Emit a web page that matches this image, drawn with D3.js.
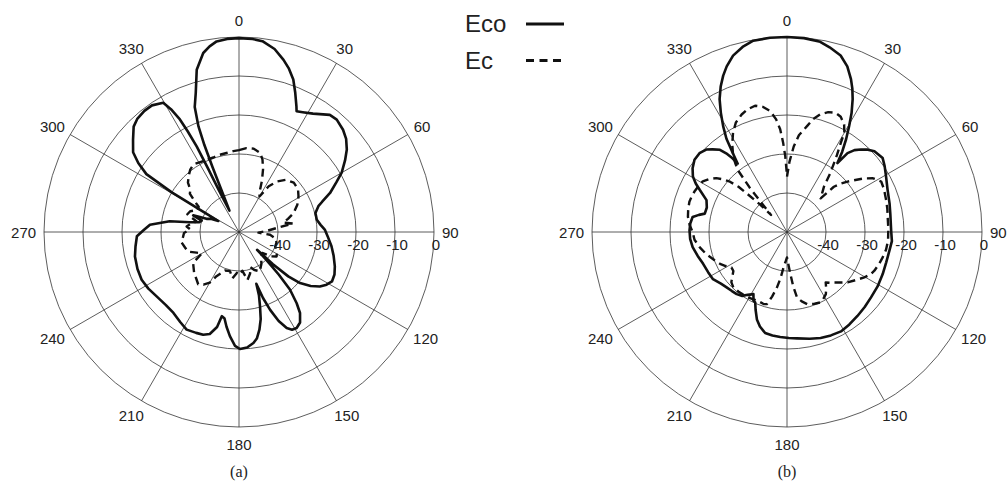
<!DOCTYPE html>
<html>
<head>
<meta charset="utf-8">
<script src="https://cdn.jsdelivr.net/npm/d3@7"></script>
<style>
  body { margin: 0; background: #fff; }
  text { font-family: "Liberation Sans", Arial, sans-serif; fill: #222; }
</style>
</head>
<body>
<script>
// ---- data (angle in degrees, level in dB) ----
var spokeAngles = [0, 30, 60, 90, 120, 150, 180, 210, 240, 270, 300, 330];
var ringLevels = [-40, -30, -20, -10, 0];
var ringLabels = ["-40", "-30", "-20", "-10", "0"];
var legendNames = ["Eco", "Ec"];
var captions = ["(a)", "(b)"];

// (a) co-pol
var ecoA_deg = [0, 4, 7, 11, 14.5, 17, 19.6, 22, 24.5, 25.5, 28, 32, 37.8, 41, 45.5, 49, 52.6, 56, 60, 63,
  66.8, 70, 72, 76, 81, 85, 88.4, 93, 98.8, 104, 109.7, 114, 118, 121, 124, 127, 129.9, 132, 133.5, 134.5,
  135.5, 137, 138.5, 141, 143, 146, 149, 151.5, 153.6, 156, 158.2, 160, 161.5, 162.5, 164.2, 166, 168.2,
  170.5, 172.6, 176, 179.5, 182, 185, 187.5, 189.5, 191.5, 193, 196, 199.2, 203, 208.2, 213, 219, 225, 232,
  238, 243.9, 250, 256.8, 262, 267.6, 271, 274.7, 278.8, 281.2, 284, 287, 290, 292, 295, 298, 299.5, 300.5,
  302, 304.4, 307, 311, 315, 318, 322, 325.5, 329.6, 331, 332.3, 333, 333.7, 334, 334.3, 336, 337.3, 337.8,
  338.3, 339, 340.5, 342.7, 345.4, 348.7, 351, 353.3, 356.5];
var ecoA_db = [-0.3, -0.4, -0.7, -2.2, -4.4, -6.2, -8.5, -11.5, -14.5, -15.7, -15.2, -14.2, -12, -11.8, -12.6, -13.6, -15.2, -17.2, -19.6, -22,
  -24.6, -27.3, -28.6, -29.8, -29.8, -29, -28, -27.2, -26, -25, -23.9, -23.2, -23, -23.8, -25, -27, -29.6, -33, -38, -43.5,
  -40, -35, -30.3, -26.5, -24, -22, -21.3, -21.5, -22.5, -25, -28.5, -32, -36, -33, -30.2, -27, -24.4,
  -22.3, -21.3, -20.3, -20, -20.8, -23.2, -25.5, -27.5, -28, -25, -22.8, -22.1, -21.9, -21.6, -22.4, -23.3, -23.5, -23.2,
  -22.6, -22.2, -22.3, -22.6, -23.2, -23.8, -25.5, -27.1, -32, -37.2, -39.5, -40, -37.5, -41, -42, -44, -40, -30,
  -22, -18.7, -16, -14, -11.8, -11, -10.6, -10.6, -11.6, -14, -17.4, -21, -25.5, -32, -38, -44, -38, -32,
  -26, -21, -16, -12.7, -7, -3.2, -1.8, -0.8, -0.4];

// (a) cross-pol
var ecA_deg = [0, 5, 10, 15, 18, 21, 24, 27, 30, 33, 37, 42, 48, 54, 59, 65, 71, 75, 78, 81,
  84, 88, 92, 95, 100, 106, 112, 118, 123, 127, 132, 138, 145, 152, 158, 162, 165, 170, 175, 180,
  183, 188, 193, 200, 207, 210, 214, 218, 222, 228, 236, 240, 244, 249, 254, 260, 265, 269, 273, 276,
  280, 284, 289, 293, 298, 302, 305, 308, 311, 314, 318, 322, 326, 331, 336, 341, 346, 351, 356];
var ecA_db = [-29, -28.4, -28.3, -29, -30.5, -32.8, -35.5, -38.3, -39.5, -36, -33.8, -32, -31.1, -31.3, -32.2, -33.5, -35.2, -37, -38.4, -36,
  -40.3, -43, -45, -42, -40.5, -40, -40, -39, -38.5, -39.6, -42, -41.5, -40, -38.6, -39.5, -40.5, -39, -37.5, -40, -39,
  -39.5, -38, -39.7, -39.5, -37.3, -35, -33.7, -33, -33.7, -34.5, -35.8, -39, -37.9, -36, -35.6, -35, -35.6, -35.9, -37.5, -36.5,
  -37.5, -38.8, -36, -36.4, -38, -37.8, -36, -34, -33.5, -31.8, -30.7, -29.7, -29.1, -29.5, -29.7, -29.8, -29.6, -29.5, -29.2];

// (b) co-pol
var ecoB_deg = [0, 5, 9.9, 13, 16.9, 20, 22.7, 24.5, 26.3, 28.5, 30.4, 32.5, 34.5, 36.2, 37.5, 39.5, 41.9, 44.5, 47.3, 52.3,
  56, 60.8, 67, 74.4, 80, 89, 95, 100.2, 107, 113.7, 121, 127.9, 134, 140, 146, 151.5, 157, 162.4, 168, 174.6,
  179, 183.7, 188, 192.2, 196, 199, 202, 204.3, 206, 208.4, 212, 215, 219, 223, 227.5, 232, 237.5, 243, 249.2, 255,
  260.9, 266, 271, 275, 279, 281, 282.6, 287, 291.6, 295.7, 298, 300.5, 304, 308, 312, 315.6, 318, 320.8, 322.3, 323.5,
  324.2, 325.5, 327, 328.9, 331, 333.1, 335.5, 337.8, 340, 343, 346.5, 350, 355];
var ecoB_db = [0, -0.1, -0.5, -1.4, -2.7, -4.8, -7.5, -9.6, -12, -15.3, -18.5, -21.8, -25, -28.1, -24.5, -22.8, -21.6, -20.4, -19.5, -19,
  -19.8, -20.9, -22, -22.7, -23.1, -23.3, -23, -23.3, -23.4, -23.2, -22.9, -22.7, -22.3, -21.9, -21.4, -21, -21.2, -21.5, -22, -22.6,
  -22.8, -23, -23.2, -23.5, -24.8, -26.3, -28.5, -30.2, -30.4, -31.9, -31, -30, -29.5, -29.3, -29, -28.5, -27.5, -27.3, -27, -26.3,
  -25.5, -25.1, -25, -25.1, -25.5, -27, -28.4, -28.5, -27.8, -25.2, -23.5, -22, -20.8, -19.9, -19.8, -20.4, -21.5, -22.8, -24.5, -26.5,
  -28.4, -25.5, -21.5, -18.3, -15, -11.8, -9, -6.7, -4.8, -2.7, -1.2, -0.2, 0];

// (b) cross-pol
var ecB_deg = [0, 2, 4.5, 7, 10.8, 13, 15.9, 19, 22.2, 25, 28, 30, 31.1, 33, 34.3, 36.5, 39.2, 42, 45, 46,
  48, 50.2, 55.2, 58, 61.8, 66, 72.2, 77, 81.5, 88, 94.8, 100, 104.7, 109, 113.9, 117, 120.4, 125, 129.8, 133,
  137, 140, 142.5, 145, 148, 151, 154.5, 159, 164.4, 168, 171.3, 173.5, 175.4, 178, 180, 182.5, 185.4, 188, 190.3, 193,
  195.6, 198, 202, 206.6, 211, 215, 219, 224, 228, 231, 234, 237.5, 241, 244.6, 249, 254.8, 260, 265.2, 270, 274,
  278.7, 283, 287.2, 290, 293.6, 297, 301, 304, 307.3, 309.5, 311.4, 313, 313.8, 315.5, 317, 318.5, 320, 321.5, 323, 324.6,
  328, 331.5, 335, 338.9, 342, 345.8, 349, 352.1, 354.5, 356.2, 357.5, 358.7, 359.5];
var ecB_db = [-35.8, -32, -28, -25, -22.3, -20.3, -18.6, -17.5, -17, -17.4, -18.8, -20.6, -23.3, -26.5, -28.6, -31.5, -35, -36.5, -37.8, -33.3,
  -31.5, -29.8, -25.9, -24, -22.6, -22.8, -23.3, -23.6, -23.9, -24, -24, -24.2, -24.6, -25, -25.5, -26, -27, -28.5, -29.8, -31,
  -32.3, -33, -33.7, -32.5, -31.2, -30.6, -30, -30.3, -30.8, -31.8, -33, -36, -39.2, -42, -43.5, -42.5, -41, -38, -35.5, -33,
  -30.8, -30.6, -30.8, -30.7, -30.5, -30.4, -30.3, -30.2, -30.8, -32, -33, -33.1, -32, -31, -30, -28.5, -27.3, -26.2, -25.8, -25,
  -24.3, -24, -23.8, -23.9, -24.1, -24.4, -24.8, -25.8, -27.2, -28.8, -30.5, -33, -35.7, -40, -44, -41, -35, -30, -28, -26.2,
  -23.5, -21, -19, -17.7, -17, -16.6, -17.3, -18.7, -21, -23.6, -27, -30.6, -34];

var plots = [
  {cx: 239, cy: 232, co: [ecoA_deg, ecoA_db], cross: [ecA_deg, ecA_db], caption: captions[0]},
  {cx: 787, cy: 232, co: [ecoB_deg, ecoB_db], cross: [ecB_deg, ecB_db], caption: captions[1]}
];

var width = 1008;
var height = 487;
var R = 195;

var svg = d3.select("body")
    .append("svg")
    .attr("width", width)
    .attr("height", height);

var rScale = d3.scaleLinear()
    .domain([-50, 0])
    .range([0, R]);

var rad = function(deg) { return deg * Math.PI / 180; };

function toPoints(series) {
    return series[0].map(function(a, i) { return [a, series[1][i]]; });
}

var pattern = d3.lineRadial()
    .angle(function(d) { return rad(d[0]); })
    .radius(function(d) { return rScale(Math.min(0, d[1])); })
    .curve(d3.curveLinearClosed);

plots.forEach(function(p) {
    var g = svg.append("g")
        .attr("transform", "translate(" + p.cx + "," + p.cy + ")");

    // rings
    g.selectAll("circle.ring")
        .data(ringLevels)
        .enter()
        .append("circle")
        .attr("r", function(d) { return rScale(d); })
        .attr("fill", "none")
        .attr("stroke", "#333")
        .attr("stroke-width", 0.8);

    // spokes
    g.selectAll("line.spoke")
        .data(spokeAngles)
        .enter()
        .append("line")
        .attr("x1", 0)
        .attr("y1", 0)
        .attr("x2", function(d) { return R * Math.sin(rad(d)); })
        .attr("y2", function(d) { return -R * Math.cos(rad(d)); })
        .attr("stroke", "#333")
        .attr("stroke-width", 0.8);

    // angle labels
    g.selectAll("text.ang")
        .data(spokeAngles)
        .enter()
        .append("text")
        .attr("text-anchor", "middle")
        .attr("dominant-baseline", "central")
        .attr("font-size", 15)
        .attr("x", function(d) {
            var w = String(d).length * 8.3;
            return Math.sin(rad(d)) * (203 + w / 2);
        })
        .attr("y", function(d) { return -Math.cos(rad(d)) * 212; })
        .text(function(d) { return d; });

    // patterns
    g.append("path")
        .attr("d", pattern(toPoints(p.cross)))
        .attr("fill", "none")
        .attr("stroke", "#111")
        .attr("stroke-width", 2.4)
        .attr("stroke-dasharray", "8,5")
        .attr("stroke-linejoin", "round");

    g.append("path")
        .attr("d", pattern(toPoints(p.co)))
        .attr("fill", "none")
        .attr("stroke", "#111")
        .attr("stroke-width", 2.6)
        .attr("stroke-linejoin", "round");

    // level labels along the 90 spoke
    g.selectAll("text.lvl")
        .data(ringLevels)
        .enter()
        .append("text")
        .attr("text-anchor", "middle")
        .attr("font-size", 15)
        .attr("x", function(d) { return rScale(d) + 2; })
        .attr("y", 18)
        .text(function(d, i) { return ringLabels[i]; });

    svg.append("text")
        .attr("x", p.cx)
        .attr("y", 477)
        .attr("text-anchor", "middle")
        .style("font-family", "'Liberation Serif', 'Times New Roman', serif")
        .attr("font-size", 16)
        .text(p.caption);
});

// legend
var legendY = [24, 60.5];
legendNames.forEach(function(name, i) {
    svg.append("text")
        .attr("x", 465)
        .attr("y", legendY[i] + 8)
        .attr("font-size", 24)
        .text(name);
    svg.append("line")
        .attr("x1", 526)
        .attr("x2", 564)
        .attr("y1", legendY[i])
        .attr("y2", legendY[i])
        .attr("stroke", "#111")
        .attr("stroke-width", 3)
        .attr("stroke-dasharray", i == 1 ? "8,5.5" : null);
});
</script>
</body>
</html>
